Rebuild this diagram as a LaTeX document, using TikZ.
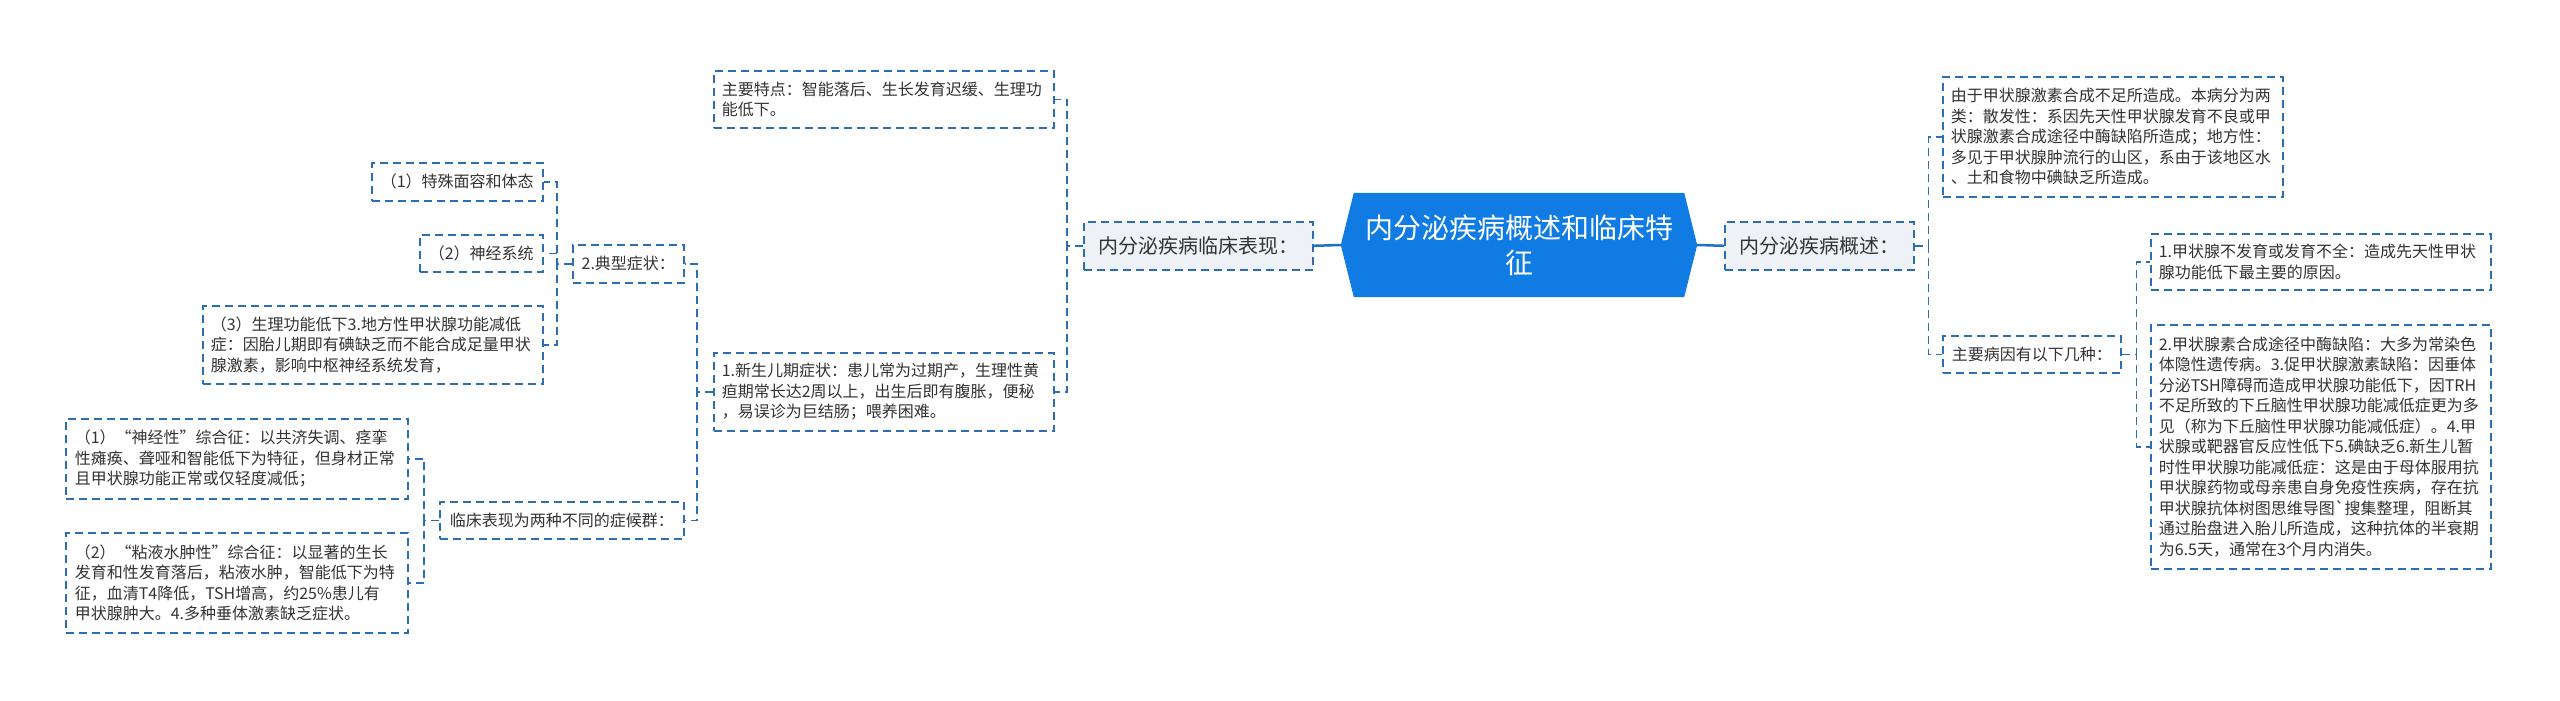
\documentclass[tikz,border=0pt]{standalone}
\usepackage{fontspec}
\newfontfamily\cjk{Noto Sans CJK SC}
\usetikzlibrary{backgrounds}
\definecolor{hexblue}{RGB}{16,124,227}
\definecolor{lineblue}{RGB}{43,110,180}
\definecolor{connblue}{RGB}{30,112,205}
\definecolor{grayfill}{RGB}{238,241,245}
\definecolor{txt}{RGB}{51,51,51}
\newcommand\mmsmall{\cjk\fontsize{16pt}{20.5pt}\selectfont}
\newcommand\mmmid{\cjk\fontsize{20pt}{24pt}\selectfont}
\newcommand\mmhex{\cjk\fontsize{28pt}{35pt}\selectfont}
\tikzset{
 dbox/.style={draw=lineblue, line width=1.6pt, dash pattern=on 8pt off 5pt, fill=white, text=txt, font=\mmsmall, anchor=north west, inner sep=0pt},
 multi/.style={dbox, align=left, inner xsep=8pt, text width=324pt},
 single/.style={dbox, align=center},
 first/.style={dbox, fill=grayfill, font=\mmmid, align=center},
 conn/.style={draw=lineblue, line width=1.6pt, dash pattern=on 8pt off 5pt},
 solidconn/.style={draw=connblue, line width=2.5pt},
}
\begin{document}
\begin{tikzpicture}[x=1pt,y=-1pt]
\begin{pgfonlayer}{background}
\fill[white] (0,0) rectangle (2560,701);
\end{pgfonlayer}
\useasboundingbox (0,0) rectangle (2560,701);

% central node
\node[minimum width=356pt, minimum height=104pt, inner sep=0pt, text=white, font=\mmhex, align=center] (hex) at (1519,245) {内分泌疾病概述和临床特\\征};
\begin{pgfonlayer}{background}
\fill[hexblue] (hex.west) -- ([xshift=13pt]hex.north west) -- ([xshift=-13pt]hex.north east) -- (hex.east) -- ([xshift=-13pt]hex.south east) -- ([xshift=13pt]hex.south west) -- cycle;
\end{pgfonlayer}

% first level
\node[first, minimum width=229pt, minimum height=48pt] (L1) at (1083,221) {内分泌疾病临床表现：};
\node[first, minimum width=189pt, minimum height=48pt] (R1) at (1724,221) {内分泌疾病概述：};

% right side
\node[multi, minimum height=120pt] (R1a) at (1942,76) {由于甲状腺激素合成不足所造成。本病分为两\\类：散发性：系因先天性甲状腺发育不良或甲\\状腺激素合成途径中酶缺陷所造成；地方性：\\多见于甲状腺肿流行的山区，系由于该地区水\\、土和食物中碘缺乏所造成。};
\node[single, minimum width=178pt, minimum height=37pt] (zb) at (1942,335) {主要病因有以下几种：};
\node[multi, minimum height=56pt] (R1b) at (2150,233) {1.甲状腺不发育或发育不全：造成先天性甲状\\腺功能低下最主要的原因。};
\node[multi, minimum height=244pt] (R1c) at (2150,324) {2.甲状腺素合成途径中酶缺陷：大多为常染色\\体隐性遗传病。3.促甲状腺激素缺陷：因垂体\\分泌TSH障碍而造成甲状腺功能低下，因TRH\\不足所致的下丘脑性甲状腺功能减低症更为多\\见（称为下丘脑性甲状腺功能减低症）。4.甲\\状腺或靶器官反应性低下5.碘缺乏6.新生儿暂\\时性甲状腺功能减低症：这是由于母体服用抗\\甲状腺药物或母亲患自身免疫性疾病，存在抗\\甲状腺抗体树图思维导图`搜集整理，阻断其\\通过胎盘进入胎儿所造成，这种抗体的半衰期\\为6.5天，通常在3个月内消失。};

% left side
\node[multi, minimum height=57pt] (zt) at (713,70) {主要特点：智能落后、生长发育迟缓、生理功\\能低下。};
\node[multi, minimum height=78pt] (xse) at (713,352) {1.新生儿期症状：患儿常为过期产，生理性黄\\疸期常长达2周以上，出生后即有腹胀，便秘\\，易误诊为巨结肠；喂养困难。};
\node[single, minimum width=111pt, minimum height=38pt] (dx) at (572,244) {2.典型症状：};
\node[single, minimum width=244pt, minimum height=37pt] (lc) at (439,501) {临床表现为两种不同的症候群：};
\node[single, minimum width=171pt, minimum height=38pt] (t1) at (371,162) {（1）特殊面容和体态};
\node[single, minimum width=123pt, minimum height=37pt] (t2) at (419,234) {（2）神经系统};
\node[multi, minimum height=78pt] (t3) at (202,305) {（3）生理功能低下3.地方性甲状腺功能减低\\症：因胎儿期即有碘缺乏而不能合成足量甲状\\腺激素，影响中枢神经系统发育，};
\node[multi, inner xsep=9pt, minimum height=80pt] (s1) at (65,418) {（1）“神经性”综合征：以共济失调、痉挛\\性瘫痪、聋哑和智能低下为特征，但身材正常\\且甲状腺功能正常或仅轻度减低；};
\node[multi, inner xsep=9pt, minimum height=100pt] (s2) at (65,532) {（2）“粘液水肿性”综合征：以显著的生长\\发育和性发育落后，粘液水肿，智能低下为特\\征，血清T4降低，TSH增高，约25\%患儿有\\甲状腺肿大。4.多种垂体激素缺乏症状。};

% connectors
\draw[solidconn] (hex.west) -- (L1.east);
\draw[solidconn] (hex.east) -- (R1.west);

\draw[conn] (R1.east) -- ++(14,0) |- (R1a.west);
\draw[conn] (R1.east) -- ++(14,0) |- (zb.west);
\draw[conn] (zb.east) -- ++(15,0) |- (R1b.west);
\draw[conn] (zb.east) -- ++(15,0) |- (R1c.west);

\draw[conn] (L1.west) -- ++(-16,0) |- (zt.east);
\draw[conn] (L1.west) -- ++(-16,0) |- (xse.east);
\draw[conn] (xse.west) -- ++(-16,0) |- (dx.east);
\draw[conn] (xse.west) -- ++(-16,0) |- (lc.east);
\draw[conn] (dx.west) -- ++(-15,0) |- (t1.east);
\draw[conn] (dx.west) -- ++(-15,0) |- (t2.east);
\draw[conn] (dx.west) -- ++(-15,0) |- (t3.east);
\draw[conn] (lc.west) -- ++(-15,0) |- (s1.east);
\draw[conn] (lc.west) -- ++(-15,0) |- (s2.east);
\end{tikzpicture}
\end{document}
